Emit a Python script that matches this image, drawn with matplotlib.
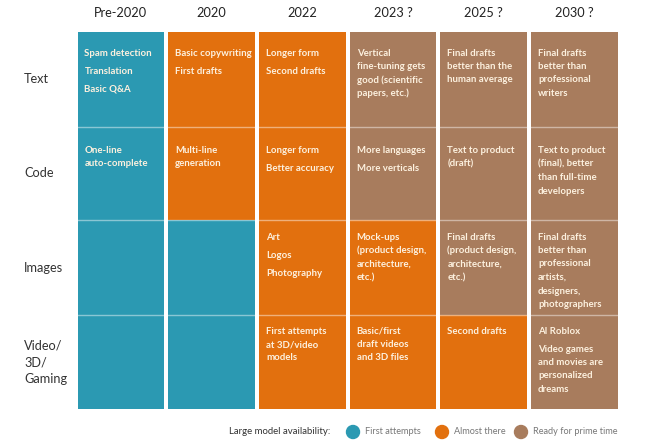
import matplotlib.pyplot as plt
from matplotlib.patches import Rectangle

# column headers, row labels
columns = ['Pre-2020', '2020', '2022', '2023 ?', '2025 ?', '2030 ?']
rows = ['Text', 'Code', 'Images', 'Video/\n3D/\nGaming']

# 0 = first attempts, 1 = almost there, 2 = ready for prime time
status = [
    [0, 1, 1, 2, 2, 2],
    [0, 1, 1, 2, 2, 2],
    [0, 0, 1, 1, 2, 2],
    [0, 0, 1, 1, 1, 2],
]

# cell contents: list of items per cell, each item may wrap over lines
cells = [
    [['Spam detection', 'Translation', 'Basic Q&A'],
     ['Basic copywriting', 'First drafts'],
     ['Longer form', 'Second drafts'],
     ['Vertical\nfine-tuning gets\ngood (scientific\npapers, etc.)'],
     ['Final drafts\nbetter than the\nhuman average'],
     ['Final drafts\nbetter than\nprofessional\nwriters']],
    [['One-line\nauto-complete'],
     ['Multi-line\ngeneration'],
     ['Longer form', 'Better accuracy'],
     ['More languages', 'More verticals'],
     ['Text to product\n(draft)'],
     ['Text to product\n(final), better\nthan full-time\ndevelopers']],
    [[],
     [],
     ['Art', 'Logos', 'Photography'],
     ['Mock-ups\n(product design,\narchitecture,\netc.)'],
     ['Final drafts\n(product design,\narchitecture,\netc.)'],
     ['Final drafts\nbetter than\nprofessional\nartists,\ndesigners,\nphotographers']],
    [[],
     [],
     ['First attempts\nat 3D/video\nmodels'],
     ['Basic/first\ndraft videos\nand 3D files'],
     ['Second drafts'],
     ['AI Roblox', 'Video games\nand movies are\npersonalized\ndreams']],
]

legend_labels = ['First attempts', 'Almost there', 'Ready for prime time']
colors = ['#2b99b2', '#e2700e', '#a87c5d']

W, H = 660, 447
fig = plt.figure(figsize=(W / 100, H / 100), dpi=100)
ax = fig.add_axes([0, 0, 1, 1])
ax.set_xlim(0, W)
ax.set_ylim(H, 0)
ax.axis('off')

font = 'Lato'
left, top = 75.5, 32
col_w, gap = 90.7, 4
row_h = [94.5, 93.5, 95, 94]
first_off = [21, 24, 17, 16]
text_col = '#fdf1df'

y0 = top
for i, r in enumerate(rows):
    for j, c in enumerate(columns):
        x0 = left + j * col_w + gap / 2
        ax.add_patch(Rectangle((x0, y0), col_w - gap, row_h[i],
                               facecolor=colors[status[i][j]], edgecolor='none'))
        y = y0 + first_off[i]
        for item in cells[i][j]:
            for line in item.split('\n'):
                ax.text(x0 + 7, y, line, color=text_col, fontsize=6.9,
                        fontweight='bold', family=font, va='center', ha='left')
                y += 13.5
            y += 4.5
    if i > 0:
        ax.plot([left + gap / 2, left + 6 * col_w - gap / 2], [y0, y0],
                color='white', alpha=0.45, lw=1.0)
    # row label
    nl = r.count('\n') + 1
    yc = y0 + row_h[i] / 2 if nl == 1 else y0 + 31
    for k, line in enumerate(r.split('\n')):
        ax.text(24, yc + k * 16.5, line, color='#333333', fontsize=9.2,
                family=font, va='center', ha='left')
    y0 += row_h[i]

# column headers
for j, c in enumerate(columns):
    ax.text(left + j * col_w + col_w / 2, 13, c, color='#222222', fontsize=9.2,
            family=font, va='center', ha='center')

# legend
ax.text(229, 432, 'Large model availability:', color='#333333', fontsize=6.9,
        family=font, va='center', ha='left')
leg_x = [353, 442, 521]
for k, lab in enumerate(legend_labels):
    ax.add_patch(plt.Circle((leg_x[k], 432), 6.5, color=colors[k]))
    ax.text(leg_x[k] + 12, 432, lab, color='#777777', fontsize=6.6,
            family=font, va='center', ha='left')

fig.savefig('out.png', dpi=100, facecolor='white')
